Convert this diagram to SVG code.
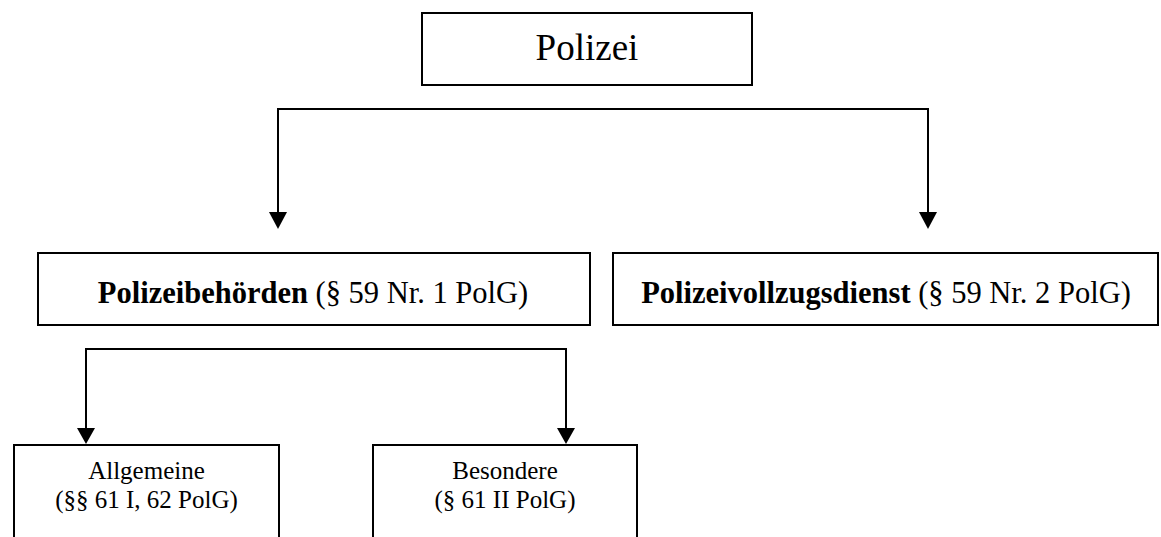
<svg xmlns="http://www.w3.org/2000/svg" width="1161" height="537" viewBox="0 0 1161 537">
<style>
.box{fill:#fff;stroke:#000;stroke-width:2}
.t{font-family:"Liberation Serif","Times New Roman",serif;fill:#000;text-anchor:middle}
.c{fill:none;stroke:#000;stroke-width:2}
.h{fill:#000}
.b{font-weight:bold}
</style>
<g id="connectors">
<path class="c" d="M278,214 V109 H928 V214"/>
<path class="h" d="M269,212 L287,212 L278,229 Z"/>
<path class="h" d="M919,212 L937,212 L928,229 Z"/>
<path class="c" d="M86,430 V349 H566 V430"/>
<path class="h" d="M77,428 L95,428 L86,444 Z"/>
<path class="h" d="M557,428 L575,428 L566,444 Z"/>
</g>
<g id="polizei">
<rect class="box" x="422" y="13" width="330" height="72"/>
<text class="t" x="587" y="60" font-size="37">Polizei</text>
</g>
<g id="polizeibehoerden">
<rect class="box" x="38" y="253" width="552" height="72"/>
<text class="t" x="313" y="303" font-size="30.5"><tspan class="b">Polizeibehörden</tspan> (§ 59 Nr. 1 PolG)</text>
</g>
<g id="polizeivollzugsdienst">
<rect class="box" x="613" y="253" width="545" height="72"/>
<text class="t" x="886" y="303" font-size="30.5"><tspan class="b">Polizeivollzugsdienst</tspan> (§ 59 Nr. 2 PolG)</text>
</g>
<g id="allgemeine">
<rect class="box" x="14" y="445" width="265" height="110"/>
<text class="t" x="146.5" y="479" font-size="25">Allgemeine</text>
<text class="t" x="146.5" y="508" font-size="25">(§§ 61 I, 62 PolG)</text>
</g>
<g id="besondere">
<rect class="box" x="373" y="445" width="264" height="110"/>
<text class="t" x="505" y="479" font-size="25">Besondere</text>
<text class="t" x="505" y="508" font-size="25">(§ 61 II PolG)</text>
</g>
</svg>
